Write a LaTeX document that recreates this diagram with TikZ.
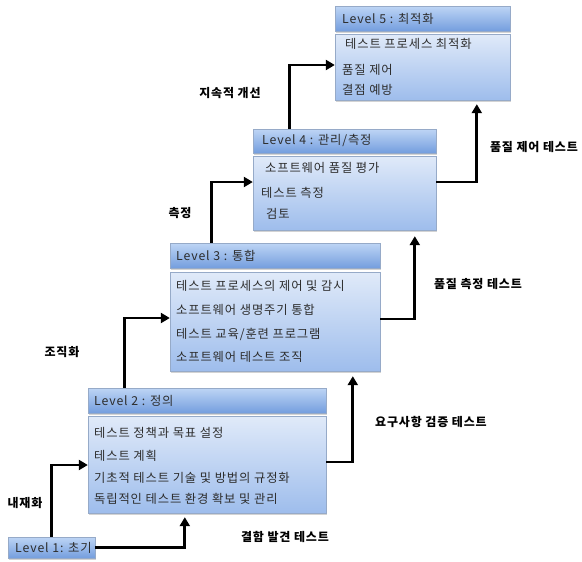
\documentclass[tikz,border=0pt]{standalone}
\usepackage{fontspec}
\setmainfont{Noto Sans CJK KR}[LetterSpace=7]
\usetikzlibrary{arrows.meta,shadows}
\definecolor{hdtop}{RGB}{190,213,245}
\definecolor{hdbot}{RGB}{116,158,222}
\definecolor{bdtop}{RGB}{224,234,249}
\definecolor{bdbot}{RGB}{158,189,236}
\definecolor{edge}{RGB}{150,170,200}
\definecolor{boxtext}{RGB}{45,45,45}
\begin{document}
\begin{tikzpicture}[x=1pt,y=-1pt,
  hdr/.style={rectangle,inner sep=0pt,draw=edge,line width=0.4pt,top color=hdtop,bottom color=hdbot,
    drop shadow={shadow xshift=1pt,shadow yshift=-1.5pt,opacity=0.35}},
  bdy/.style={rectangle,inner sep=0pt,draw=edge,line width=0.4pt,top color=bdtop,bottom color=bdbot,
    drop shadow={shadow xshift=1pt,shadow yshift=-1.5pt,opacity=0.35}},
  txt/.style={anchor=west,inner sep=0pt,text=boxtext,font=\fontsize{12.3pt}{14pt}\selectfont},
  lbl/.style={anchor=center,inner sep=0pt,text=black,font=\fontsize{12pt}{14pt}\selectfont\bfseries},
  arr/.style={line width=2.8pt,line join=miter,-{Triangle[length=9pt,width=10pt]}}]
\useasboundingbox (0,0) rectangle (582,562);
% boxes
\node[hdr,minimum width=175pt,minimum height=25pt] (h5) at (422.5,18.5) {};
\node[bdy,minimum width=175pt,minimum height=66pt] (b5) at (422.5,67) {};
\node[hdr,minimum width=183pt,minimum height=24pt] (h4) at (344.5,141) {};
\node[bdy,minimum width=183pt,minimum height=74pt] (b4) at (344.5,193) {};
\node[hdr,minimum width=210pt,minimum height=25pt] (h3) at (275,255.5) {};
\node[bdy,minimum width=210pt,minimum height=99pt] (b3) at (275,321.5) {};
\node[hdr,minimum width=238pt,minimum height=25pt] (h2) at (207,400.5) {};
\node[bdy,minimum width=238pt,minimum height=97pt] (b2) at (207,464.5) {};
\node[hdr,minimum width=87pt,minimum height=21pt] (h1) at (51.5,547.5) {};
% texts
\node[txt] (t5) at (342,18.5) {Level 5 : 최적화};
\node[txt] (t51) at (345,44) {테스트 프로세스 최적화};
\node[txt] (t52) at (342,70) {품질 제어};
\node[txt] (t53) at (342,90) {결점 예방};
\node[txt] (t4) at (262,141) {Level 4 : 관리/측정};
\node[txt] (t41) at (265,168) {소프트웨어 품질 평가};
\node[txt] (t42) at (261,193) {테스트 측정};
\node[txt] (t43) at (266,214) {검토};
\node[txt] (t3) at (176,255.5) {Level 3 : 통합};
\node[txt] (t31) at (176,286) {테스트 프로세스의 제어 및 감시};
\node[txt] (t32) at (176,310) {소프트웨어 생명주기 통합};
\node[txt] (t33) at (176,334) {테스트 교육/훈련 프로그램};
\node[txt] (t34) at (176,357) {소프트웨어 테스트 조직};
\node[txt] (t2) at (94,400.5) {Level 2 : 정의};
\node[txt] (t21) at (94,433) {테스트 정책과 목표 설정};
\node[txt] (t22) at (94,456) {테스트 계획};
\node[txt] (t23) at (94,478) {기초적 테스트 기술 및 방법의 규정화};
\node[txt] (t24) at (94,499) {독립적인 테스트 환경 확보 및 관리};
\node[txt] (t1) at (15,547.5) {Level 1: 초기};
% labels
\node[lbl] (l1) at (25,503) {내재화};
\node[lbl] (l2) at (62,352) {조직화};
\node[lbl] (l3) at (180,213) {측정};
\node[lbl] (l4) at (230,93) {지속적 개선};
\node[lbl] (r1) at (285,537) {결함 발견 테스트};
\node[lbl] (r2) at (431,422) {요구사항 검증 테스트};
\node[lbl] (r3) at (478,284) {품질 측정 테스트};
\node[lbl] (r4) at (534,147) {품질 제어 테스트};
% arrows
\draw[arr] ([xshift=44pt]h1.north west) |- (b2.west |- 0,465);
\draw[arr] ([xshift=37pt]h2.north west) |- (b3.west |- 0,318);
\draw[arr] ([xshift=42pt]h3.north west) |- (b4.west |- 0,182);
\draw[arr] ([xshift=37pt]h4.north west) |- (b5.west |- 0,65);
\draw[arr] (h1.east) -| ([xshift=97pt,yshift=-4pt]b2.south west);
\draw[arr] (b2.east |- 0,462) -| ([xshift=183pt,yshift=-5pt]b3.south west);
\draw[arr] (b3.east |- 0,319) -| ([xshift=162pt,yshift=-6pt]b4.south west);
\draw[arr] (b4.east |- 0,182) -| ([xshift=142pt,yshift=-4pt]b5.south west);
\end{tikzpicture}
\end{document}
